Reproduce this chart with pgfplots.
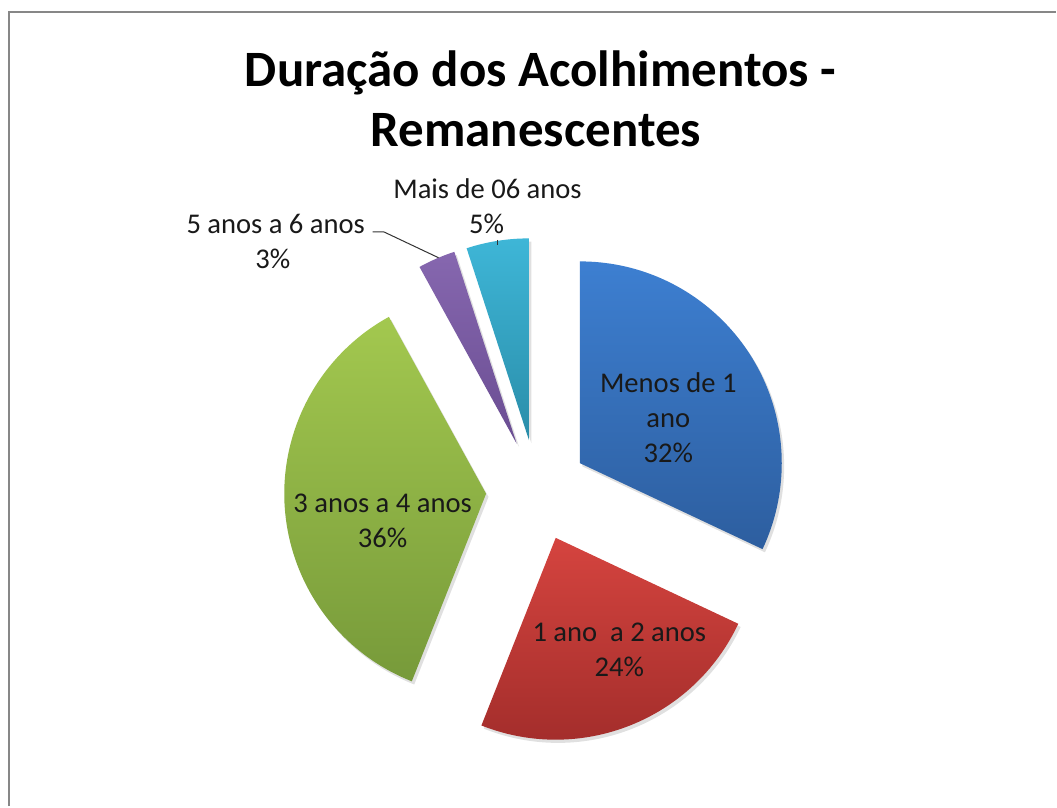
\documentclass[border=0pt]{standalone}
\usepackage{pgfplots}
\pgfplotsset{compat=1.18}
\usepackage{pgfplotstable}
\usepackage{fontspec}
\setmainfont{Carlito}
\usetikzlibrary{calc}

\definecolor{frame}{HTML}{878787}
\definecolor{blueT}{HTML}{3D7FD1}
\definecolor{blueB}{HTML}{2D5E9F}
\definecolor{redT}{HTML}{D5443F}
\definecolor{redB}{HTML}{9E2B29}
\definecolor{greenT}{HTML}{A3C84F}
\definecolor{greenB}{HTML}{779A3A}
\definecolor{purT}{HTML}{8667AF}
\definecolor{purB}{HTML}{6A4D92}
\definecolor{cyaT}{HTML}{3EB6D7}
\definecolor{cyaB}{HTML}{2A8DA9}

\pgfplotstableread{
label value
{Menos de 1 ano} 32
{1 ano a 2 anos} 24
{3 anos a 4 anos} 36
{5 anos a 6 anos} 3
{Mais de 06 anos} 5
}\piedata

% radius and explosion (pt); 1 px of the reference = 0.5pt
\def\R{101pt}
\def\Ex{25.5pt}
\def\cx{537.5}
\def\cy{491}

\newcommand\slice[5]{%
  \fill[black,opacity=0.12] ($(axis cs:\cx,\cy)+(#3:\Ex)+(1.2pt,-1.6pt)$) -- ++(#1:\R) arc[start angle=#1,end angle=#2,radius=\R] -- cycle;
  \shade[top color=#4,bottom color=#5] ($(axis cs:\cx,\cy)+(#3:\Ex)$) -- ++(#1:\R) arc[start angle=#1,end angle=#2,radius=\R] -- cycle;}

\begin{document}
\begin{tikzpicture}
\pgfplotstablegetelem{0}{value}\of\piedata \pgfmathsetmacro\vA{\pgfplotsretval}
\pgfplotstablegetelem{1}{value}\of\piedata \pgfmathsetmacro\vB{\pgfplotsretval}
\pgfplotstablegetelem{2}{value}\of\piedata \pgfmathsetmacro\vC{\pgfplotsretval}
\pgfplotstablegetelem{3}{value}\of\piedata \pgfmathsetmacro\vD{\pgfplotsretval}
\pgfplotstablegetelem{4}{value}\of\piedata \pgfmathsetmacro\vE{\pgfplotsretval}
\pgfmathsetmacro\sA{90}
\pgfmathsetmacro\eA{\sA-3.6*\vA}\pgfmathsetmacro\mA{(\sA+\eA)/2}
\pgfmathsetmacro\sB{\eA}
\pgfmathsetmacro\eB{\sB-3.6*\vB}\pgfmathsetmacro\mB{(\sB+\eB)/2}
\pgfmathsetmacro\sC{\eB}
\pgfmathsetmacro\eC{\sC-3.6*\vC}\pgfmathsetmacro\mC{(\sC+\eC)/2}
\pgfmathsetmacro\sD{\eC}
\pgfmathsetmacro\eD{\sD-3.6*\vD}\pgfmathsetmacro\mD{(\sD+\eD)/2}
\pgfmathsetmacro\sE{\eD}
\pgfmathsetmacro\eE{\sE-3.6*\vE}\pgfmathsetmacro\mE{(\sE+\eE)/2}
\begin{axis}[
  width=528.5pt, height=403.5pt, scale only axis,
  xmin=0, xmax=1057, ymin=0, ymax=807, y dir=reverse,
  hide axis, clip=false]
\path[fill=white] (axis cs:0,0) rectangle (axis cs:1057,807);
\draw[frame,line width=1.1pt] (axis cs:9,807) -- (axis cs:9,12) -- (axis cs:1057,12);

\slice{\sA}{\eA}{\mA}{blueT}{blueB}
\slice{\sB}{\eB}{\mB}{redT}{redB}
\slice{\sC}{\eC}{\mC}{greenT}{greenB}
\slice{\sD}{\eD}{\mD}{purT}{purB}
\slice{\sE}{\eE}{\mE}{cyaT}{cyaB}

% title
\node[anchor=base,font=\fontsize{25.5}{30}\selectfont\bfseries] at (axis cs:541,87) {Duração dos Acolhimentos -};
\node[anchor=base,font=\fontsize{25.5}{30}\selectfont\bfseries] at (axis cs:536.5,147) {Remanescentes};

% labels
\tikzset{lab/.style={anchor=base,font=\fontsize{14.3}{17}\selectfont,text=black!90}}
\node[lab] at (axis cs:669,393) {Menos de 1};
\node[lab] at (axis cs:669,428) {ano};
\node[lab] at (axis cs:669,463) {32\%};
\node[lab] at (axis cs:620,642) {1 ano\ \ a 2 anos};
\node[lab] at (axis cs:620,677) {24\%};
\node[lab] at (axis cs:383,513) {3 anos a 4 anos};
\node[lab] at (axis cs:383,548) {36\%};
\node[lab] at (axis cs:276,234) {5 anos a 6 anos};
\node[lab] at (axis cs:273,269) {3\%};
\node[lab] at (axis cs:488,199) {Mais de 06 anos};
\node[lab] at (axis cs:487,234) {5\%};
\draw[black!80,line width=0.5pt] (axis cs:373,232) -- (axis cs:384,232) -- (axis cs:439,258);
\draw[black!80,line width=0.5pt] (axis cs:498,240) -- (axis cs:498,245);
\end{axis}
\end{tikzpicture}
\end{document}
